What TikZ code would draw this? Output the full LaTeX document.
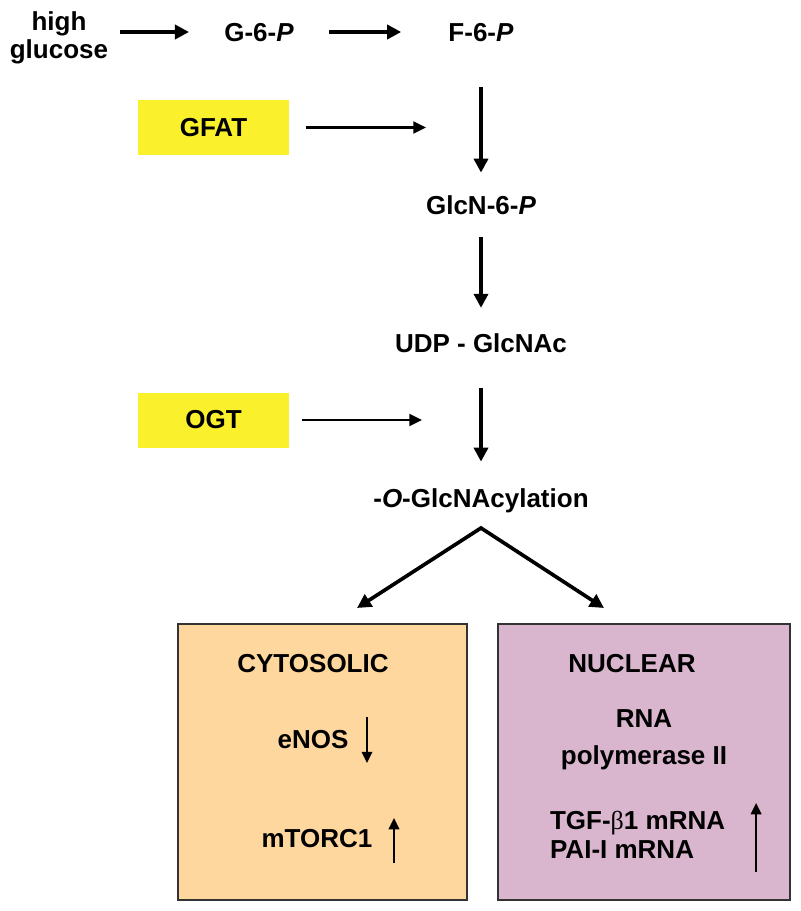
\documentclass[tikz,border=0pt]{standalone}
\usepackage{fontspec}
\setmainfont{Liberation Sans}
\newfontfamily\greekfont{Liberation Serif}
\usetikzlibrary{arrows.meta,positioning}
\definecolor{enzyme}{HTML}{FAF02C}
\definecolor{peach}{HTML}{FED79E}
\definecolor{mauve}{HTML}{D9B6CD}
\definecolor{edgegray}{HTML}{333333}

\begin{document}
\begin{tikzpicture}[node distance=2cm,on grid,
    every node/.style={font=\fontsize{18.5}{22}\selectfont\bfseries, inner sep=0pt},
    metab/.style={text height=13.2pt, text depth=0pt},
    enzymebox/.style={fill=enzyme, minimum width=3.775cm, minimum height=1.375cm},
    compartment/.style={draw=edgegray, line width=1.2pt, minimum height=6.9cm},
    flow/.style={line width=2.6pt, -{Triangle[length=10pt,width=10pt]}},
    forkarrow/.style={line width=2.6pt, line join=miter,
        {Triangle[length=10pt,width=10pt]}-{Triangle[length=10pt,width=10pt]}},
    act/.style={line width=1.6pt, -{Triangle[length=9pt,width=8.5pt]}},
    trend/.style={line width=1.4pt, -{Triangle[length=8pt,width=7.5pt]}}]
                \useasboundingbox (-12.025,0.8) rectangle (7.975,-21.975);

                \node[metab] (f6p) {F-6-\textit{P}};
                \node[metab] (g6p) [left=5.55cm of f6p] {G-6-\textit{P}};
                \node[align=center, font=\fontsize{18.5}{20}\selectfont\bfseries] (glu) [below left=0.15cm and 5cm of g6p] {high\\glucose};
                \node[metab] (glcn) [below=4.325cm of f6p] {GlcN-6-\textit{P}};
                \node[metab] (udp) [below=3.45cm of glcn] {UDP - GlcNAc};
                \node[metab] (oglc) [below=3.875cm of udp] {-\textit{O}-GlcNAcylation};

                \node[enzymebox] (gfat) [below left=2.3875cm and 6.6875cm of f6p] {GFAT};
                \coordinate[right=5.3125cm of gfat] (gfat_to);
                \node[enzymebox] (ogt) [below left=1.925cm and 6.6875cm of udp] {OGT};
                \coordinate[right=5.2125cm of ogt] (ogt_to);

                \coordinate[below=0.75cm of oglc] (split);
                \coordinate[below left=2cm and 3.1cm of split] (to_cyto);
                \coordinate[below right=2cm and 3.075cm of split] (to_nucl);

                \node[compartment, fill=peach, minimum width=7.225cm] (cyto) [below left=6.6cm and 3.9625cm of oglc] {};
                \node[compartment, fill=mauve, minimum width=7.3cm] (nucl) [below right=6.6cm and 4.075cm of oglc] {};

                \node[metab] (cyto_t) [above left=2.475cm and 0.2375cm of cyto] {CYTOSOLIC};
                \node[metab] (enos) [below=1.9cm of cyto_t] {eNOS};
                \node[metab] (mtorc) [below right=2.475cm and 0.1cm of enos] {mTORC1};
                \coordinate[above right=0.55cm and 1.35cm of enos] (enos_top);
                \coordinate[below right=0.6cm and 1.35cm of enos] (enos_bot);
                \coordinate[above right=0.5cm and 1.925cm of mtorc] (mtorc_top);
                \coordinate[below right=0.625cm and 1.925cm of mtorc] (mtorc_bot);

                \node[metab] (nucl_t) [above left=2.475cm and 0.3cm of nucl] {NUCLEAR};
                \node[align=center, font=\fontsize{18.5}{26}\selectfont\bfseries] (rnap) [below right=1.925cm and 0.3cm of nucl_t] {RNA\\polymerase II};
                \node[align=left, font=\fontsize{18.5}{21}\selectfont\bfseries] (mrna) [below left=2.375cm and 0.16cm of rnap] {TGF-{\greekfont\mdseries β}1 mRNA\\PAI-I mRNA};
                \coordinate[above right=0.8cm and 2.9625cm of mrna] (mrna_top);
                \coordinate[below right=0.925cm and 2.9625cm of mrna] (mrna_bot);

                \path[flow]
                (glu.east |- g6p) edge [shorten <=0.3cm, shorten >=0.875cm] (g6p)
                (g6p) edge [shorten <=0.875cm, shorten >=1.175cm] (f6p)
                (f6p) edge [shorten <=1.14cm, shorten >=0.57cm] (glcn)
                (glcn) edge [shorten <=0.57cm, shorten >=0.64cm] (udp)
                (udp) edge [shorten <=0.89cm, shorten >=0.67cm] (oglc);

                \path[act]
                (gfat) edge [shorten <=0.425cm] (gfat_to)
                (ogt) edge [shorten <=0.325cm] (ogt_to);

                \draw[forkarrow] (to_cyto) -- (split) -- (to_nucl);

                \path[trend]
                (enos_top) edge (enos_bot)
                (mtorc_bot) edge (mtorc_top)
                (mrna_bot) edge (mrna_top);

            \end{tikzpicture}
\end{document}
